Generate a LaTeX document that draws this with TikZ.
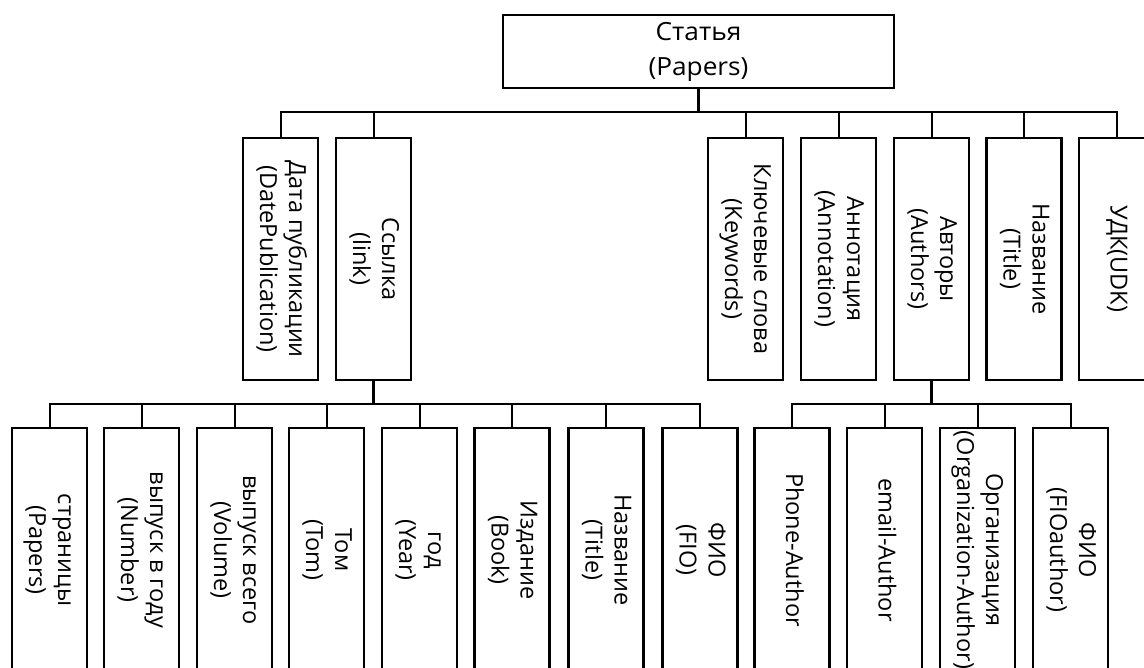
\documentclass[tikz,border=0pt]{standalone}
\usepackage{fontspec}
\setmainfont{Open Sans}
\usepackage{graphicx}
\newcommand\vlabel[1]{\rotatebox{-90}{\begin{tabular}{@{}c@{}}#1\end{tabular}}}
\begin{document}
\begin{tikzpicture}[x=1pt,y=-1pt,
  box/.style={draw, line width=2.4pt, inner sep=0pt, minimum width=75pt,
    font=\fontsize{23.5}{29}\selectfont},
  upper/.style={box, minimum height=242pt},
  lower/.style={box, minimum height=244pt},
  conn/.style={line width=2pt},
  stem/.style={line width=3.6pt}]
\useasboundingbox (0,0) rectangle (1144,668);
\clip (0,0) rectangle (1144,668);

% root
\node[draw, line width=2.4pt, inner sep=0pt, minimum width=391pt, minimum height=73pt,
  align=center, font=\fontsize{25}{35}\selectfont] (root) at (698.5,51.5)
  {\scalebox{1.05}[1]{Статья}\\\scalebox{1.05}[1]{(Papers)}};

% first level
\node[upper] (date)  at (280.5,259) {\vlabel{Дата публикации\\(DatePublication)}};
\node[upper] (link)  at (373.5,259) {\vlabel{Ссылка\\(link)}};
\node[upper] (kw)    at (745.5,259) {\vlabel{Ключевые слова\\(Keywords)}};
\node[upper] (ann)   at (838.5,259) {\vlabel{Аннотация\\(Annotation)}};
\node[upper] (auth)  at (931.5,259) {\vlabel{Авторы\\(Authors)}};
\node[upper] (title) at (1024,259)  {\vlabel{Название\\(Title)}};
\node[upper] (udk)   at (1116.5,259) {\vlabel{УДК(UDK)}};

% second level under the link
\node[lower] (pages)  at (49.5,550)  {\vlabel{страницы\\(Papers)}};
\node[lower] (number) at (141.5,550) {\vlabel{выпуск в году\\(Number)}};
\node[lower] (volume) at (234.5,550) {\vlabel{выпуск всего\\(Volume)}};
\node[lower] (tom)    at (326.5,550) {\vlabel{Том\\(Tom)}};
\node[lower] (year)   at (419.5,550) {\vlabel{год\\(Year)}};
\node[lower] (book)   at (512,550)   {\vlabel{Издание\\(Book)}};
\node[lower] (ltitle) at (606,550)   {\vlabel{Название\\(Title)}};
\node[lower] (fio)    at (700,550)   {\vlabel{ФИО\\(FIO)}};

% second level under the authors
\node[lower] (phone) at (792,550)    {\vlabel{Phone-Author}};
\node[lower] (email) at (884.5,550)  {\vlabel{email-Author}};
\node[lower] (org)   at (977.5,550)  {\vlabel{Организация\\(Organization-Author)}};
\node[lower] (fioa)  at (1070.5,550) {\vlabel{ФИО\\(FIOauthor)}};

% buses
\coordinate (rbus) at (698.5,112);
\coordinate (lbus) at (373.5,404);
\coordinate (abus) at (931.5,404);

\draw[stem] (root.south) -- (rbus);
\foreach \n in {date,link,kw,ann,auth,title,udk}
  \draw[conn] (rbus) -| (\n.north);

\draw[stem] (link.south) -- (lbus);
\foreach \n in {pages,number,volume,tom,year,book,ltitle,fio}
  \draw[conn] (lbus) -| (\n.north);

\draw[stem] (auth.south) -- (abus);
\foreach \n in {phone,email,org,fioa}
  \draw[conn] (abus) -| (\n.north);
\end{tikzpicture}
\end{document}
